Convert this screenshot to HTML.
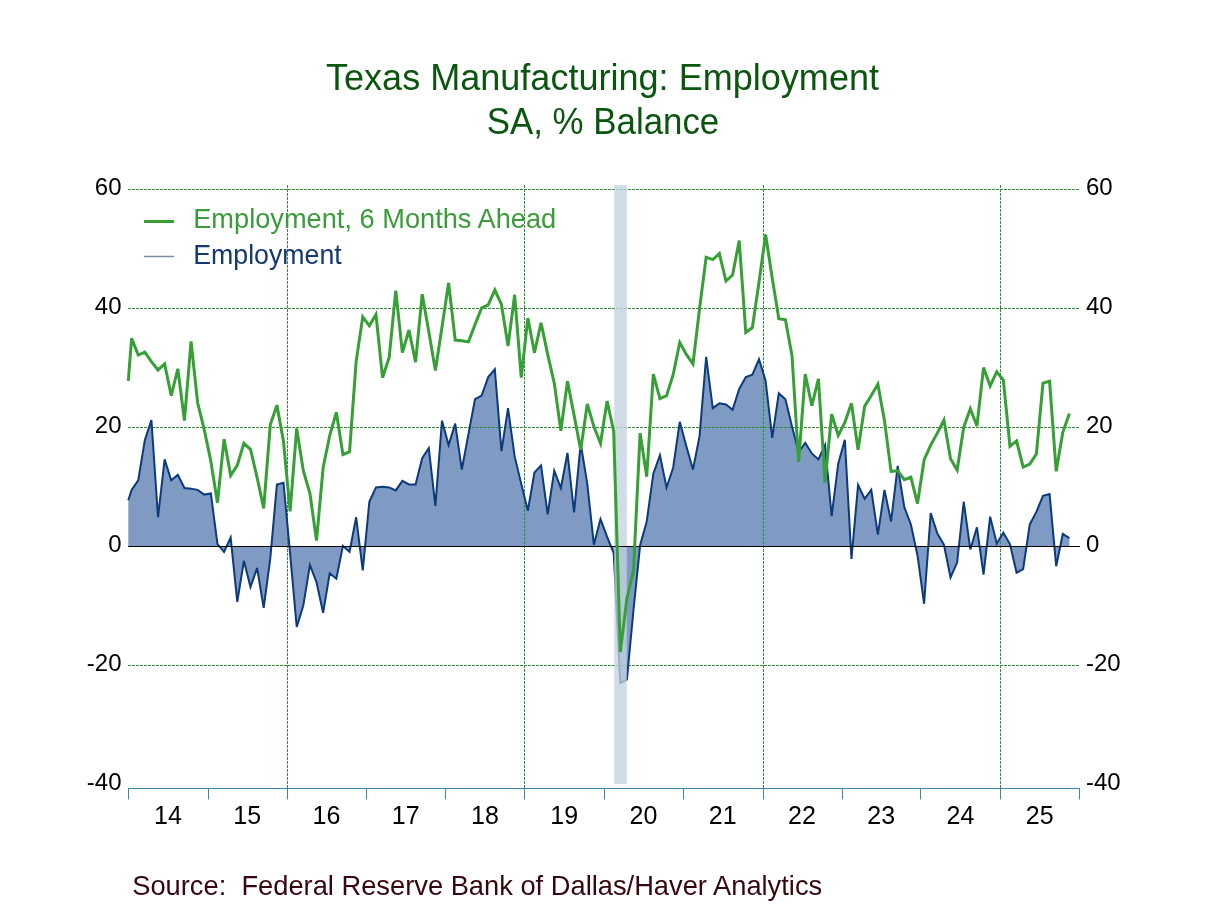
<!DOCTYPE html>
<html><head><meta charset="utf-8"><title>Texas Manufacturing: Employment</title>
<style>html,body{margin:0;padding:0;background:#fff;} body{width:1208px;height:906px;overflow:hidden;font-family:"Liberation Sans",sans-serif;} svg{display:block;}</style>
</head><body>
<svg style="will-change:transform" width="1208" height="906" viewBox="0 0 1208 906">
<rect width="1208" height="906" fill="#fff"/>
<defs><clipPath id="pc"><rect x="128.3" y="150" width="951" height="650"/></clipPath></defs>
<g clip-path="url(#pc)">
<path d="M125.00,546.5 L125.00,510.71 L131.60,489.83 L138.21,480.29 L144.81,440.32 L151.41,420.04 L158.02,517.27 L164.62,459.41 L171.23,480.29 L177.83,474.92 L184.44,488.04 L191.04,488.64 L197.64,489.83 L204.25,494.60 L210.85,493.41 L217.46,544.11 L224.06,551.87 L230.66,537.55 L237.27,601.97 L243.87,560.82 L250.48,587.06 L257.08,567.97 L263.69,607.94 L270.29,558.43 L276.89,484.46 L283.50,482.67 L290.10,553.66 L296.71,627.03 L303.31,605.55 L309.91,564.99 L316.52,582.29 L323.12,612.71 L329.73,573.34 L336.33,578.71 L342.94,545.90 L349.54,551.87 L356.14,517.27 L362.75,570.36 L369.35,501.76 L375.96,487.45 L382.56,486.85 L389.16,487.45 L395.77,490.43 L402.37,480.88 L408.98,484.46 L415.58,484.46 L422.19,458.22 L428.79,448.08 L435.39,505.94 L442.00,420.64 L448.60,445.10 L455.21,423.62 L461.81,469.55 L468.41,434.36 L475.02,399.16 L481.62,395.59 L488.23,377.09 L494.83,369.34 L501.44,451.06 L508.04,408.11 L514.64,456.43 L521.25,483.87 L527.85,510.71 L534.46,472.53 L541.06,465.38 L547.66,514.29 L554.27,470.74 L560.87,488.04 L567.48,452.85 L574.08,512.50 L580.69,443.31 L587.29,483.87 L593.89,544.71 L600.50,519.06 L607.10,536.96 L613.71,553.06 L620.31,683.10 L626.91,679.52 L633.52,609.73 L640.12,545.31 L646.73,521.45 L653.33,473.73 L659.94,455.24 L666.54,487.45 L673.14,467.76 L679.75,421.83 L686.35,446.29 L692.96,469.55 L699.56,436.15 L706.16,356.81 L712.77,408.11 L719.37,403.34 L725.98,404.53 L732.58,409.90 L739.19,389.02 L745.79,377.09 L752.39,374.71 L759.00,359.20 L765.60,380.67 L772.21,437.94 L778.81,393.20 L785.41,399.16 L792.02,426.60 L798.62,452.25 L805.23,442.71 L811.83,453.45 L818.44,459.41 L825.04,445.10 L831.64,516.08 L838.25,463.59 L844.85,439.73 L851.46,559.03 L858.06,485.06 L864.66,498.78 L871.27,489.83 L877.87,534.57 L884.48,489.83 L891.08,521.45 L897.69,465.97 L904.29,507.13 L910.89,524.43 L917.50,555.45 L924.10,603.76 L930.71,513.10 L937.31,533.38 L943.91,544.71 L950.52,577.52 L957.12,562.61 L963.73,501.76 L970.33,549.48 L976.94,527.41 L983.54,574.54 L990.14,516.67 L996.75,543.52 L1003.35,532.78 L1009.96,544.11 L1016.56,572.75 L1023.16,569.17 L1029.77,524.43 L1036.37,511.90 L1042.98,495.80 L1049.58,494.01 L1056.19,566.18 L1062.79,533.97 L1069.39,538.15 L1069.39,546.5 Z" fill="#7f9bc3" stroke="none"/>
</g>
<line x1="128" y1="189.5" x2="1080" y2="189.5" stroke="#31903a" stroke-width="1" stroke-dasharray="3 1"/>
<line x1="128" y1="308.5" x2="1080" y2="308.5" stroke="#31903a" stroke-width="1" stroke-dasharray="3 1"/>
<line x1="128" y1="427.5" x2="1080" y2="427.5" stroke="#31903a" stroke-width="1" stroke-dasharray="3 1"/>
<line x1="128" y1="665.5" x2="1080" y2="665.5" stroke="#31903a" stroke-width="1" stroke-dasharray="3 1"/>
<line x1="287.5" y1="185" x2="287.5" y2="788" stroke="#31903a" stroke-width="1" stroke-dasharray="3 1"/>
<line x1="524.5" y1="185" x2="524.5" y2="788" stroke="#31903a" stroke-width="1" stroke-dasharray="3 1"/>
<line x1="763.5" y1="185" x2="763.5" y2="788" stroke="#31903a" stroke-width="1" stroke-dasharray="3 1"/>
<line x1="1000.5" y1="185" x2="1000.5" y2="788" stroke="#31903a" stroke-width="1" stroke-dasharray="3 1"/>
<polyline points="128.30,500.27 131.60,489.83 138.21,480.29 144.81,440.32 151.41,420.04 158.02,517.27 164.62,459.41 171.23,480.29 177.83,474.92 184.44,488.04 191.04,488.64 197.64,489.83 204.25,494.60 210.85,493.41 217.46,544.11 224.06,551.87 230.66,537.55 237.27,601.97 243.87,560.82 250.48,587.06 257.08,567.97 263.69,607.94 270.29,558.43 276.89,484.46 283.50,482.67 290.10,553.66 296.71,627.03 303.31,605.55 309.91,564.99 316.52,582.29 323.12,612.71 329.73,573.34 336.33,578.71 342.94,545.90 349.54,551.87 356.14,517.27 362.75,570.36 369.35,501.76 375.96,487.45 382.56,486.85 389.16,487.45 395.77,490.43 402.37,480.88 408.98,484.46 415.58,484.46 422.19,458.22 428.79,448.08 435.39,505.94 442.00,420.64 448.60,445.10 455.21,423.62 461.81,469.55 468.41,434.36 475.02,399.16 481.62,395.59 488.23,377.09 494.83,369.34 501.44,451.06 508.04,408.11 514.64,456.43 521.25,483.87 527.85,510.71 534.46,472.53 541.06,465.38 547.66,514.29 554.27,470.74 560.87,488.04 567.48,452.85 574.08,512.50 580.69,443.31 587.29,483.87 593.89,544.71 600.50,519.06 607.10,536.96 613.71,553.06 620.31,683.10 626.91,679.52 633.52,609.73 640.12,545.31 646.73,521.45 653.33,473.73 659.94,455.24 666.54,487.45 673.14,467.76 679.75,421.83 686.35,446.29 692.96,469.55 699.56,436.15 706.16,356.81 712.77,408.11 719.37,403.34 725.98,404.53 732.58,409.90 739.19,389.02 745.79,377.09 752.39,374.71 759.00,359.20 765.60,380.67 772.21,437.94 778.81,393.20 785.41,399.16 792.02,426.60 798.62,452.25 805.23,442.71 811.83,453.45 818.44,459.41 825.04,445.10 831.64,516.08 838.25,463.59 844.85,439.73 851.46,559.03 858.06,485.06 864.66,498.78 871.27,489.83 877.87,534.57 884.48,489.83 891.08,521.45 897.69,465.97 904.29,507.13 910.89,524.43 917.50,555.45 924.10,603.76 930.71,513.10 937.31,533.38 943.91,544.71 950.52,577.52 957.12,562.61 963.73,501.76 970.33,549.48 976.94,527.41 983.54,574.54 990.14,516.67 996.75,543.52 1003.35,532.78 1009.96,544.11 1016.56,572.75 1023.16,569.17 1029.77,524.43 1036.37,511.90 1042.98,495.80 1049.58,494.01 1056.19,566.18 1062.79,533.97 1069.39,538.15" fill="none" stroke="#0c3a7c" stroke-width="2" stroke-linejoin="miter" stroke-miterlimit="4"/>
<rect x="614.2" y="185" width="12.6" height="599" fill="rgb(195,210,223)" fill-opacity="0.78"/>
<line x1="128" y1="546.5" x2="1080" y2="546.5" stroke="#000" stroke-width="1"/>
<polyline points="128.30,380.97 131.60,338.32 138.21,355.02 144.81,352.04 151.41,361.59 158.02,369.94 164.62,363.97 171.23,395.59 177.83,368.74 184.44,420.64 191.04,341.30 197.64,402.74 204.25,429.59 210.85,461.20 217.46,502.96 224.06,439.13 230.66,475.52 237.27,465.38 243.87,443.31 250.48,449.27 257.08,477.31 263.69,508.32 270.29,424.81 276.89,405.13 283.50,441.52 290.10,511.31 296.71,428.39 303.31,470.74 309.91,493.41 316.52,540.53 323.12,467.76 329.73,435.55 336.33,412.29 342.94,454.64 349.54,451.66 356.14,361.59 362.75,316.85 369.35,325.80 375.96,314.46 382.56,377.69 389.16,357.41 395.77,290.60 402.37,352.64 408.98,329.97 415.58,362.18 422.19,294.18 428.79,331.76 435.39,370.53 442.00,326.99 448.60,282.85 455.21,340.11 461.81,340.71 468.41,341.90 475.02,324.60 481.62,307.90 488.23,304.92 494.83,290.00 501.44,304.32 508.04,346.08 514.64,294.78 521.25,377.69 527.85,318.04 534.46,352.64 541.06,322.81 547.66,354.43 554.27,383.06 560.87,430.78 567.48,381.27 574.08,415.27 580.69,449.87 587.29,403.94 593.89,426.60 600.50,443.31 607.10,400.95 613.71,431.38 620.31,652.08 626.91,598.40 633.52,570.36 640.12,433.17 646.73,476.71 653.33,374.11 659.94,398.57 666.54,395.59 673.14,374.71 679.75,342.50 686.35,354.43 692.96,363.97 699.56,308.50 706.16,257.20 712.77,259.58 719.37,253.62 725.98,281.06 732.58,275.09 739.19,240.50 745.79,332.36 752.39,327.58 759.00,282.25 765.60,234.53 772.21,278.07 778.81,318.64 785.41,319.83 792.02,355.62 798.62,461.80 805.23,374.11 811.83,405.73 818.44,378.88 825.04,482.67 831.64,414.08 838.25,435.55 844.85,422.43 851.46,403.34 858.06,449.87 864.66,406.32 871.27,395.59 877.87,384.25 884.48,420.64 891.08,471.34 897.69,470.74 904.29,479.69 910.89,477.31 917.50,503.55 924.10,460.01 930.71,445.10 937.31,433.17 943.91,420.04 950.52,458.81 957.12,470.15 963.73,427.20 970.33,408.71 976.94,426.01 983.54,367.55 990.14,386.04 996.75,371.73 1003.35,380.08 1009.96,446.29 1016.56,440.92 1023.16,467.17 1029.77,464.18 1036.37,454.04 1042.98,383.06 1049.58,381.27 1056.19,471.34 1062.79,432.57 1069.39,413.48" fill="none" stroke="#36a036" stroke-width="3" stroke-linejoin="miter" stroke-miterlimit="4"/>
<line x1="128" y1="788.5" x2="1080" y2="788.5" stroke="#4282ae" stroke-width="1"/>
<line x1="128.5" y1="788" x2="128.5" y2="799.5" stroke="#4282ae" stroke-width="1"/>
<line x1="208.5" y1="788" x2="208.5" y2="799.5" stroke="#4282ae" stroke-width="1"/>
<line x1="287.5" y1="788" x2="287.5" y2="799.5" stroke="#4282ae" stroke-width="1"/>
<line x1="366.5" y1="788" x2="366.5" y2="799.5" stroke="#4282ae" stroke-width="1"/>
<line x1="445.5" y1="788" x2="445.5" y2="799.5" stroke="#4282ae" stroke-width="1"/>
<line x1="524.5" y1="788" x2="524.5" y2="799.5" stroke="#4282ae" stroke-width="1"/>
<line x1="604.5" y1="788" x2="604.5" y2="799.5" stroke="#4282ae" stroke-width="1"/>
<line x1="683.5" y1="788" x2="683.5" y2="799.5" stroke="#4282ae" stroke-width="1"/>
<line x1="763.5" y1="788" x2="763.5" y2="799.5" stroke="#4282ae" stroke-width="1"/>
<line x1="842.5" y1="788" x2="842.5" y2="799.5" stroke="#4282ae" stroke-width="1"/>
<line x1="920.5" y1="788" x2="920.5" y2="799.5" stroke="#4282ae" stroke-width="1"/>
<line x1="1000.5" y1="788" x2="1000.5" y2="799.5" stroke="#4282ae" stroke-width="1"/>
<line x1="1079.5" y1="788" x2="1079.5" y2="799.5" stroke="#4282ae" stroke-width="1"/>
<text x="602.5" y="90.0" font-family="Liberation Sans, sans-serif" font-size="36.8" fill="#0b560f" text-anchor="middle" textLength="553" lengthAdjust="spacingAndGlyphs">Texas Manufacturing: Employment</text>
<text x="603" y="133.7" font-family="Liberation Sans, sans-serif" font-size="36.8" fill="#0b560f" text-anchor="middle" textLength="232.5" lengthAdjust="spacingAndGlyphs">SA, % Balance</text>
<text x="121.5" y="194.9" font-family="Liberation Sans, sans-serif" font-size="24" fill="#000" text-anchor="end">60</text>
<text x="1086" y="194.9" font-family="Liberation Sans, sans-serif" font-size="24" fill="#000">60</text>
<text x="121.5" y="314.0" font-family="Liberation Sans, sans-serif" font-size="24" fill="#000" text-anchor="end">40</text>
<text x="1086" y="314.0" font-family="Liberation Sans, sans-serif" font-size="24" fill="#000">40</text>
<text x="121.5" y="433.0" font-family="Liberation Sans, sans-serif" font-size="24" fill="#000" text-anchor="end">20</text>
<text x="1086" y="433.0" font-family="Liberation Sans, sans-serif" font-size="24" fill="#000">20</text>
<text x="121.5" y="552.0" font-family="Liberation Sans, sans-serif" font-size="24" fill="#000" text-anchor="end">0</text>
<text x="1086" y="552.0" font-family="Liberation Sans, sans-serif" font-size="24" fill="#000">0</text>
<text x="121.5" y="671.0" font-family="Liberation Sans, sans-serif" font-size="24" fill="#000" text-anchor="end">-20</text>
<text x="1086" y="671.0" font-family="Liberation Sans, sans-serif" font-size="24" fill="#000">-20</text>
<text x="121.5" y="790.0" font-family="Liberation Sans, sans-serif" font-size="24" fill="#000" text-anchor="end">-40</text>
<text x="1086" y="790.0" font-family="Liberation Sans, sans-serif" font-size="24" fill="#000">-40</text>
<text x="167.9" y="824" font-family="Liberation Sans, sans-serif" font-size="25" fill="#000" text-anchor="middle">14</text>
<text x="247.2" y="824" font-family="Liberation Sans, sans-serif" font-size="25" fill="#000" text-anchor="middle">15</text>
<text x="326.4" y="824" font-family="Liberation Sans, sans-serif" font-size="25" fill="#000" text-anchor="middle">16</text>
<text x="405.7" y="824" font-family="Liberation Sans, sans-serif" font-size="25" fill="#000" text-anchor="middle">17</text>
<text x="484.9" y="824" font-family="Liberation Sans, sans-serif" font-size="25" fill="#000" text-anchor="middle">18</text>
<text x="564.2" y="824" font-family="Liberation Sans, sans-serif" font-size="25" fill="#000" text-anchor="middle">19</text>
<text x="643.4" y="824" font-family="Liberation Sans, sans-serif" font-size="25" fill="#000" text-anchor="middle">20</text>
<text x="722.7" y="824" font-family="Liberation Sans, sans-serif" font-size="25" fill="#000" text-anchor="middle">21</text>
<text x="801.9" y="824" font-family="Liberation Sans, sans-serif" font-size="25" fill="#000" text-anchor="middle">22</text>
<text x="881.2" y="824" font-family="Liberation Sans, sans-serif" font-size="25" fill="#000" text-anchor="middle">23</text>
<text x="960.4" y="824" font-family="Liberation Sans, sans-serif" font-size="25" fill="#000" text-anchor="middle">24</text>
<text x="1039.7" y="824" font-family="Liberation Sans, sans-serif" font-size="25" fill="#000" text-anchor="middle">25</text>
<line x1="144" y1="221.5" x2="174" y2="221.5" stroke="#36a036" stroke-width="3"/>
<line x1="144" y1="256.5" x2="174" y2="256.5" stroke="#7f8ea6" stroke-width="1.5"/>
<text x="193.2" y="227.5" font-family="Liberation Sans, sans-serif" font-size="27.4" fill="#3a9c3a" textLength="363" lengthAdjust="spacingAndGlyphs">Employment, 6 Months Ahead</text>
<text x="193.2" y="263.7" font-family="Liberation Sans, sans-serif" font-size="27.4" fill="#14386f" textLength="148.5" lengthAdjust="spacingAndGlyphs">Employment</text>
<text x="132.2" y="895" font-family="Liberation Sans, sans-serif" font-size="27.4" fill="#37070f" textLength="690" lengthAdjust="spacingAndGlyphs">Source:&#160; Federal Reserve Bank of Dallas/Haver Analytics</text>
</svg>
</body></html>
